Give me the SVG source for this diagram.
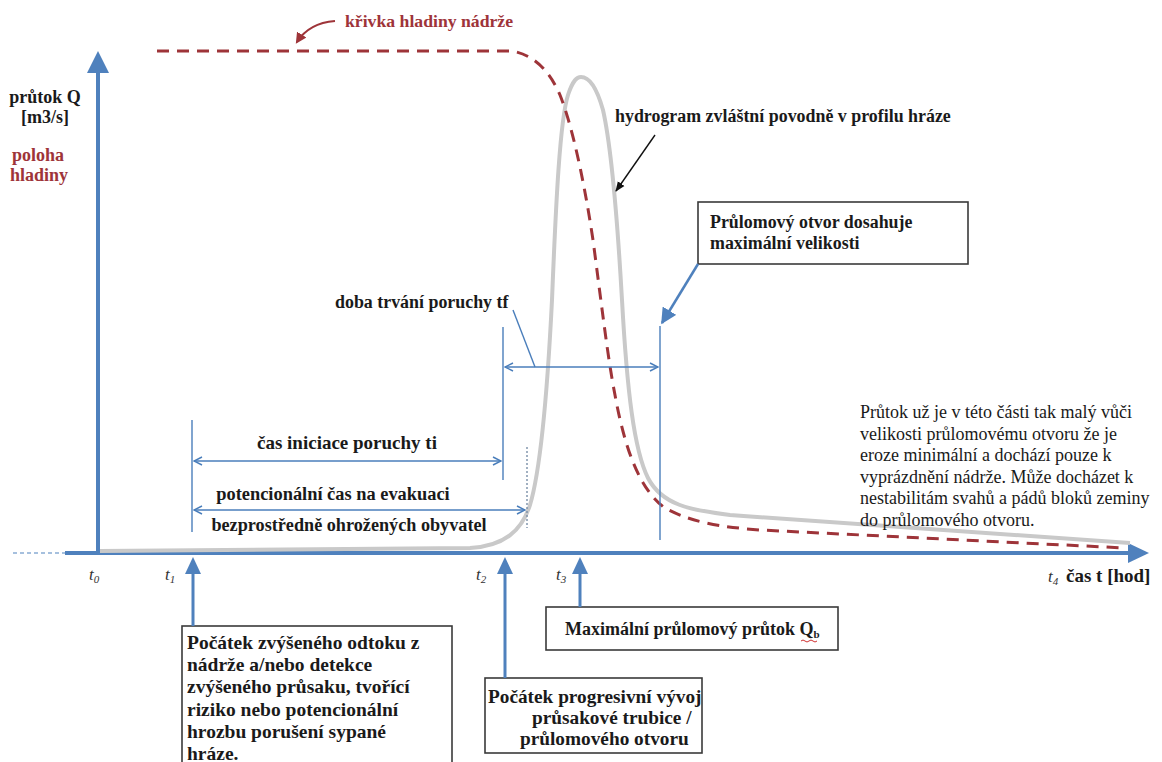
<svg xmlns="http://www.w3.org/2000/svg" width="1162" height="762" viewBox="0 0 1162 762">
<style>
  .t{font-family:"Liberation Serif","Times New Roman",serif;font-weight:bold;fill:#1a1a1a;}
  .r{font-family:"Liberation Serif","Times New Roman",serif;fill:#1a1a1a;}
  .red{fill:#9e3439;}
  .it{font-family:"Liberation Serif","Times New Roman",serif;font-style:italic;fill:#333;font-size:17px;}
  .box{fill:#fff;stroke:#3a3a3a;stroke-width:1.6;}
  .dim{stroke:#4a7ebb;stroke-width:1.4;fill:none;}
  .axis{stroke:#4f81bd;stroke-width:4;fill:none;}
  .up{stroke:#4f81bd;stroke-width:3;fill:none;}
  .ah{fill:#4f81bd;}
</style>
<defs>
  <marker id="open" viewBox="0 0 10 10" refX="9" refY="5" markerWidth="10" markerHeight="10" markerUnits="userSpaceOnUse" orient="auto-start-reverse">
    <path d="M1,1 L9,5 L1,9" fill="none" stroke="#4a7ebb" stroke-width="1.5"/>
  </marker>
  <marker id="redhead" viewBox="0 0 10 10" refX="8" refY="5" markerWidth="11" markerHeight="11" markerUnits="userSpaceOnUse" orient="auto">
    <path d="M0,0 L10,5 L0,10 Z" fill="#9e3439"/>
  </marker>
  <marker id="blackhead" viewBox="0 0 10 10" refX="9" refY="5" markerWidth="10" markerHeight="10" markerUnits="userSpaceOnUse" orient="auto">
    <path d="M0,1 L10,5 L0,9 Z" fill="#111"/>
  </marker>
  <marker id="bluehead" viewBox="0 0 10 10" refX="9" refY="5" markerWidth="16" markerHeight="16" markerUnits="userSpaceOnUse" orient="auto">
    <path d="M0,0 L10,5 L0,10 Z" fill="#4f81bd"/>
  </marker>
</defs>
<rect width="1162" height="762" fill="#fff"/>

<!-- axes -->
<g id="axes">
  <line x1="13" y1="553" x2="65" y2="553" stroke="#4f81bd" stroke-width="1.2" stroke-dasharray="4,3"/>
  <line class="axis" x1="65" y1="553" x2="1130" y2="553"/>
  <polygon class="ah" points="1128,543 1149,553 1128,563"/>
  <line class="axis" x1="98" y1="553" x2="98" y2="70"/>
  <polygon class="ah" points="87,73 98,51 109,73"/>
</g>

<!-- curves -->
<g id="hydrograph">
  <path d="M100,551 L470,548 C505,546 522,530 530,505 C542,465 548,380 552,300 C556,200 560,120 568,95 C573,80 577,77 581,77 C588,77 596,85 603,110 C612,150 618,230 622,300 C627,390 634,450 648,478 C662,505 690,510 730,515 L1130,543" fill="none" stroke="#c9c9c9" stroke-width="4"/>
</g>
<g id="level-curve">
  <path d="M157,51 L512,51 C535,55 550,72 560,95 C572,125 584,180 593,240 C601,300 608,360 615,395 C625,450 640,490 665,508 C690,522 720,527 760,530 L1125,548" fill="none" stroke="#9e3439" stroke-width="3" stroke-dasharray="12,8"/>
</g>

<!-- labels -->
<g id="label-y">
  <text class="t" x="45" y="103" font-size="18" text-anchor="middle">průtok Q</text>
  <text class="t" x="45" y="123" font-size="18" text-anchor="middle">[m3/s]</text>
  <text class="t red" x="38" y="161" font-size="18" text-anchor="middle">poloha</text>
  <text class="t red" x="39" y="181" font-size="18" text-anchor="middle">hladiny</text>
</g>
<g id="label-level">
  <text class="t red" x="345" y="27" font-size="17.7">křivka hladiny nádrže</text>
</g>
<g id="label-hydrograph">
  <text class="t" x="615" y="122" font-size="17.9">hydrogram zvláštní povodně v profilu hráze</text>
</g>
<g id="label-tf">
  <text class="t" x="335" y="308" font-size="17.9">doba trvání poruchy tf</text>
</g>
<g id="label-ti">
  <text class="t" x="347" y="449" font-size="19" text-anchor="middle">čas iniciace poruchy ti</text>
</g>
<g id="label-evac">
  <text class="t" x="333" y="500" font-size="18.4" text-anchor="middle">potencionální čas na evakuaci</text>
  <text class="t" x="349" y="531" font-size="18.2" text-anchor="middle">bezprostředně ohrožených obyvatel</text>
</g>
<g id="label-tail">
  <text class="r" font-size="18">
    <tspan x="860" y="418">Průtok už je v této části tak malý vůči</tspan>
    <tspan x="860" y="440">velikosti průlomovému otvoru že  je</tspan>
    <tspan x="860" y="461">eroze minimální a dochází pouze k</tspan>
    <tspan x="860" y="483">vyprázdnění nádrže. Může docházet k</tspan>
    <tspan x="860" y="504">nestabilitám svahů a pádů bloků zeminy</tspan>
    <tspan x="860" y="526">do průlomového otvoru.</tspan>
  </text>
</g>
<g id="time-labels">
  <text class="it" x="89" y="580">t<tspan font-size="11" dy="3">0</tspan></text>
  <text class="it" x="165" y="580">t<tspan font-size="11" dy="3">1</tspan></text>
  <text class="it" x="476" y="580">t<tspan font-size="11" dy="3">2</tspan></text>
  <text class="it" x="556" y="580">t<tspan font-size="11" dy="3">3</tspan></text>
  <text class="it" x="1048" y="582">t<tspan font-size="11" dy="3">4</tspan></text>
  <text class="t" x="1066" y="582" font-size="19">čas t [hod]</text>
</g>

<!-- boxes -->
<g id="box-t1">
  <rect class="box" x="182" y="626" width="270" height="160"/>
  <text class="t" font-size="19.5">
    <tspan x="187" y="649">Počátek zvýšeného odtoku z</tspan>
    <tspan x="187" y="671">nádrže a/nebo detekce</tspan>
    <tspan x="187" y="693">zvýšeného průsaku, tvořící</tspan>
    <tspan x="187" y="716">riziko nebo potencionální</tspan>
    <tspan x="187" y="738">hrozbu porušení sypané</tspan>
    <tspan x="187" y="760">hráze.</tspan>
  </text>
</g>
<g id="box-t2">
  <rect class="box" x="485" y="678" width="217" height="75"/>
  <text class="t" font-size="19.3">
    <tspan x="488" y="703">Počátek progresivní vývoj</tspan>
    <tspan x="532" y="724">průsakové trubice /</tspan>
    <tspan x="520" y="745">průlomového otvoru</tspan>
  </text>
</g>
<g id="box-t3">
  <rect class="box" x="546" y="607" width="292" height="43"/>
  <text class="t" x="565" y="635" font-size="18">Maximální průlomový průtok Q<tspan font-size="11" dy="3">b</tspan></text>
  <path d="M801,641 q2,-2 4,0 t4,0 t4,0 t4,0" fill="none" stroke="#d03030" stroke-width="1"/>
</g>
<g id="box-max">
  <rect class="box" x="698" y="202" width="270" height="62"/>
  <text class="t" font-size="17.9">
    <tspan x="710" y="228">Průlomový otvor dosahuje</tspan>
    <tspan x="710" y="249">maximální velikosti</tspan>
  </text>
</g>

<!-- connectors -->
<g id="connectors">
  <path d="M335,21 Q309,23 297,42" fill="none" stroke="#9e3439" stroke-width="2" marker-end="url(#redhead)"/>
  <line x1="655" y1="135" x2="616" y2="191" stroke="#111" stroke-width="1.4" marker-end="url(#blackhead)"/>
  <line x1="698" y1="264" x2="662" y2="323" stroke="#4f81bd" stroke-width="2.5" marker-end="url(#bluehead)"/>

  <line class="dim" x1="660" y1="326" x2="660" y2="540"/>
  <line class="dim" x1="503" y1="327" x2="503" y2="480"/>
  <line class="dim" x1="192" y1="420" x2="192" y2="532"/>
  <line x1="527" y1="447" x2="527" y2="528" stroke="#7a8fa8" stroke-width="1.4" stroke-dasharray="2,2"/>
  <line class="dim" x1="505" y1="367" x2="658" y2="367" marker-start="url(#open)" marker-end="url(#open)"/>
  <line class="dim" x1="513" y1="310" x2="535" y2="367"/>
  <line class="dim" x1="194" y1="461" x2="501" y2="461" marker-start="url(#open)" marker-end="url(#open)"/>
  <line class="dim" x1="194" y1="510" x2="525" y2="510" marker-start="url(#open)" marker-end="url(#open)"/>

  <line class="up" x1="193" y1="626" x2="193" y2="572"/>
  <polygon class="ah" points="185,574 193,557 201,574"/>
  <line class="up" x1="505" y1="678" x2="505" y2="572"/>
  <polygon class="ah" points="497,574 505,557 513,574"/>
  <line class="up" x1="580" y1="607" x2="580" y2="572"/>
  <polygon class="ah" points="572,574 580,557 588,574"/>
</g>
</svg>
